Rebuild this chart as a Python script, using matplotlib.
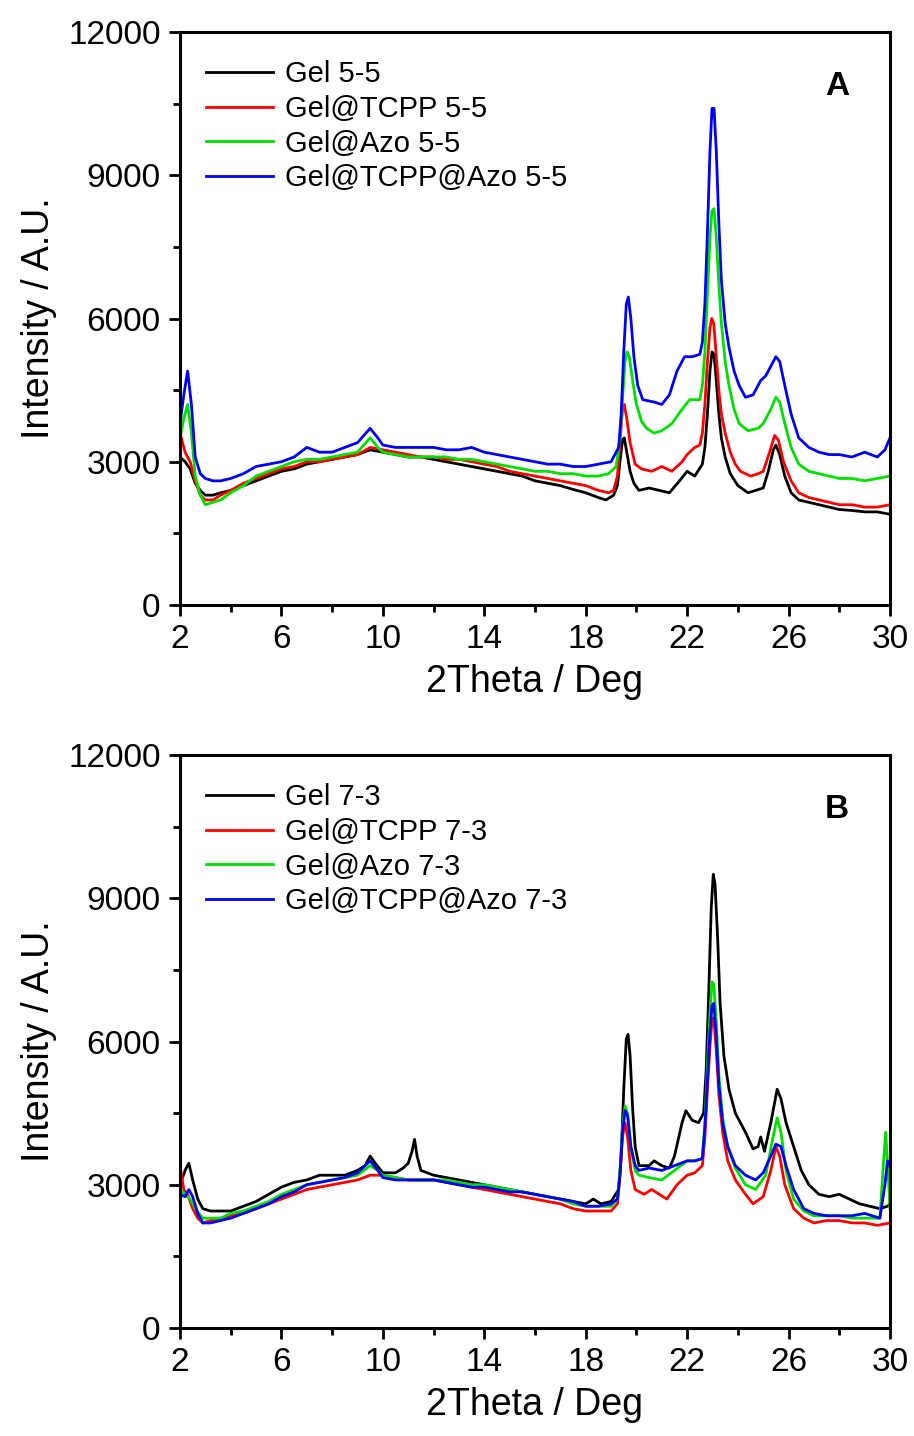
import numpy as np
import matplotlib.pyplot as plt
from matplotlib.ticker import MultipleLocator

plt.rcParams['font.family'] = ['Liberation Sans', 'DejaVu Sans']

# ---- panel A (5-5) ----
xa_gel = [2.0, 2.2, 2.4, 2.6, 2.8, 3.0, 3.3, 3.6, 4.0, 4.5, 5.0, 5.5, 6.0, 6.5, 7.0, 7.5, 8.0, 8.5, 9.0, 9.5,
          10.0, 10.5, 11.0, 11.5, 12.0, 12.5, 13.0, 13.5, 14.0, 14.5, 15.0, 15.5, 16.0, 16.5, 17.0, 17.5, 18.0,
          18.5, 18.8, 19.1, 19.25, 19.35, 19.45, 19.52, 19.62, 19.75, 19.9, 20.1, 20.5, 20.9, 21.3, 21.7, 22.0,
          22.3, 22.6, 22.7, 22.8, 22.9, 22.98, 23.06, 23.15, 23.25, 23.35, 23.5, 23.7, 24.0, 24.4, 24.7, 25.0,
          25.2, 25.4, 25.5, 25.65, 25.85, 26.1, 26.4, 26.8, 27.2, 27.6, 28.0, 28.5, 29.0, 29.5, 30.0]
ya_gel = [3100, 3000, 2850, 2550, 2400, 2300, 2300, 2350, 2400, 2500, 2600, 2700, 2800, 2850, 2950, 3000, 3050, 3100, 3150, 3250,
          3200, 3150, 3100, 3100, 3050, 3000, 2950, 2900, 2850, 2800, 2750, 2700, 2600, 2550, 2500, 2420, 2350,
          2250, 2200, 2300, 2500, 3000, 3450, 3500, 3200, 2800, 2550, 2400, 2450, 2400, 2350, 2600, 2800,
          2700, 2950, 3300, 4000, 4900, 5300, 5250, 4700, 4000, 3500, 3100, 2750, 2500, 2350, 2400, 2450,
          2800, 3250, 3350, 3150, 2700, 2350, 2200, 2150, 2100, 2050, 2000, 1980, 1950, 1950, 1900]

xa_tcpp = [2.0, 2.2, 2.4, 2.6, 2.8, 3.0, 3.3, 3.6, 4.0, 4.5, 5.0, 5.5, 6.0, 6.5, 7.0, 7.5, 8.0, 8.5, 9.0, 9.5,
           10.0, 10.5, 11.0, 11.5, 12.0, 12.5, 13.0, 13.5, 14.0, 14.5, 15.0, 15.5, 16.0, 16.5, 17.0, 17.5, 18.0,
           18.5, 18.9, 19.1, 19.25, 19.35, 19.45, 19.52, 19.62, 19.75, 19.95, 20.2, 20.6, 21.0, 21.4, 21.8, 22.0,
           22.3, 22.5, 22.6, 22.7, 22.8, 22.9, 22.97, 23.05, 23.15, 23.25, 23.35, 23.5, 23.7, 23.9, 24.1, 24.5,
           24.8, 25.0, 25.25, 25.45, 25.6, 25.8, 26.1, 26.4, 26.8, 27.2, 27.6, 28.0, 28.5, 29.0, 29.5, 30.0]
ya_tcpp = [3600, 3200, 3000, 2600, 2300, 2200, 2200, 2300, 2400, 2550, 2650, 2750, 2850, 2900, 3000, 3000, 3050, 3100, 3150, 3300,
           3250, 3200, 3150, 3100, 3100, 3050, 3050, 3000, 2950, 2900, 2800, 2750, 2700, 2650, 2600, 2550, 2500,
           2400, 2350, 2400, 2700, 3400, 4100, 4200, 3900, 3400, 2950, 2850, 2800, 2900, 2800, 3000, 3150,
           3300, 3350, 3600, 4200, 5100, 5800, 6000, 5900, 5200, 4500, 4000, 3600, 3200, 2950, 2800, 2700,
           2750, 2800, 3200, 3550, 3450, 3000, 2600, 2350, 2250, 2200, 2150, 2100, 2100, 2050, 2050, 2100]

xa_azo = [2.0, 2.15, 2.3, 2.45, 2.6, 2.8, 3.0, 3.3, 3.6, 4.0, 4.5, 5.0, 5.5, 6.0, 6.5, 7.0, 7.5, 8.0, 8.5, 9.0,
          9.5, 9.8, 10.0, 10.5, 11.0, 11.5, 12.0, 12.5, 13.0, 13.5, 14.0, 14.5, 15.0, 15.5, 16.0, 16.5, 17.0,
          17.5, 18.0, 18.5, 18.9, 19.2, 19.35, 19.45, 19.55, 19.63, 19.72, 19.85, 20.0, 20.2, 20.4, 20.7, 21.0,
          21.4, 21.8, 22.1, 22.5, 22.6, 22.7, 22.8, 22.9, 22.98, 23.06, 23.15, 23.25, 23.35, 23.5, 23.65, 23.85,
          24.05, 24.4, 24.8, 25.0, 25.3, 25.5, 25.65, 25.85, 26.1, 26.4, 26.8, 27.2, 27.6, 28.0, 28.5, 29.0,
          29.5, 30.0]
ya_azo = [3500, 3900, 4200, 3600, 2700, 2300, 2100, 2150, 2200, 2350, 2500, 2700, 2800, 2900, 3000, 3050, 3050, 3100, 3150, 3200,
          3500, 3300, 3200, 3150, 3100, 3100, 3100, 3100, 3050, 3050, 3000, 2950, 2900, 2850, 2800, 2800, 2750,
          2750, 2700, 2700, 2750, 2900, 3500, 4300, 5100, 5300, 5200, 4700, 4200, 3850, 3700, 3600, 3650,
          3800, 4100, 4300, 4300, 4600, 5300, 6500, 7700, 8250, 8300, 7700, 6700, 5900, 5100, 4600, 4100,
          3800, 3650, 3700, 3800, 4100, 4350, 4250, 3800, 3300, 2950, 2800, 2750, 2700, 2650, 2650, 2600,
          2650, 2700]

xa_both = [2.0, 2.15, 2.3, 2.45, 2.6, 2.8, 3.0, 3.3, 3.6, 4.0, 4.5, 5.0, 5.5, 6.0, 6.5, 7.0, 7.5, 8.0, 8.5, 9.0,
           9.5, 9.8, 10.0, 10.5, 11.0, 11.5, 12.0, 12.5, 13.0, 13.5, 14.0, 14.5, 15.0, 15.5, 16.0, 16.5, 17.0,
           17.5, 18.0, 18.5, 19.0, 19.3, 19.4, 19.5, 19.6, 19.68, 19.78, 19.9, 20.05, 20.25, 20.7, 21.0, 21.3,
           21.6, 21.9, 22.2, 22.5, 22.6, 22.7, 22.8, 22.9, 22.98, 23.06, 23.15, 23.25, 23.35, 23.5, 23.65, 23.85,
           24.05, 24.3, 24.6, 24.9, 25.1, 25.3, 25.5, 25.65, 25.85, 26.1, 26.4, 26.8, 27.2, 27.6, 28.0, 28.5,
           29.0, 29.5, 29.8, 30.0]
ya_both = [3800, 4400, 4900, 4200, 3100, 2750, 2650, 2600, 2600, 2650, 2750, 2900, 2950, 3000, 3100, 3300, 3200, 3200, 3300, 3400,
           3700, 3500, 3350, 3300, 3300, 3300, 3300, 3250, 3250, 3300, 3200, 3150, 3100, 3050, 3000, 2950, 2950,
           2900, 2900, 2950, 3000, 3300, 4000, 5300, 6300, 6450, 6000, 5200, 4600, 4300, 4250, 4200, 4400,
           4900, 5200, 5200, 5250, 5500, 6300, 7800, 9500, 10400, 10400, 9500, 8000, 6800, 5900, 5400, 4900,
           4600, 4350, 4400, 4700, 4800, 5000, 5200, 5100, 4600, 4000, 3500, 3300, 3200, 3150, 3150, 3100,
           3200, 3100, 3250, 3500]

# ---- panel B (7-3) ----
xb_gel = [2.0, 2.2, 2.35, 2.5, 2.7, 2.9, 3.2, 3.6, 4.0, 4.5, 5.0, 5.5, 6.0, 6.5, 7.0, 7.5, 8.0, 8.5, 9.0, 9.3,
          9.5, 9.7, 10.0, 10.5, 10.8, 11.0, 11.15, 11.25, 11.35, 11.5, 12.0, 12.5, 13.0, 13.5, 14.0, 14.5, 15.0,
          15.5, 16.0, 16.5, 17.0, 17.5, 18.0, 18.3, 18.6, 19.0, 19.3, 19.4, 19.5, 19.6, 19.67, 19.75, 19.85,
          19.95, 20.1, 20.5, 20.7, 21.0, 21.3, 21.5, 21.8, 21.95, 22.2, 22.45, 22.65, 22.75, 22.85, 22.95, 23.03,
          23.1, 23.2, 23.3, 23.45, 23.65, 23.9, 24.3, 24.6, 24.8, 24.9, 25.05, 25.3, 25.55, 25.7, 25.9, 26.2,
          26.5, 26.8, 27.2, 27.6, 28.0, 28.4, 28.8, 29.2, 29.6, 29.9, 30.0]
yb_gel = [3000, 3300, 3450, 3100, 2700, 2500, 2450, 2450, 2450, 2550, 2650, 2800, 2950, 3050, 3100, 3200, 3200, 3200, 3300, 3400,
          3600, 3450, 3250, 3250, 3350, 3450, 3700, 3950, 3600, 3300, 3200, 3150, 3100, 3050, 3000, 2950, 2900,
          2850, 2800, 2750, 2700, 2650, 2600, 2700, 2600, 2650, 2900, 3600, 5000, 6050, 6150, 5700, 4600,
          3800, 3400, 3400, 3500, 3400, 3350, 3600, 4300, 4550, 4350, 4300, 4500, 5400, 7000, 8800, 9500,
          9300, 8200, 6800, 5700, 5000, 4500, 4100, 3750, 3800, 4000, 3700, 4300, 5000, 4800, 4300, 3800,
          3300, 3000, 2800, 2750, 2800, 2700, 2600, 2550, 2500, 2550, 2600]

xb_tcpp = [2.0, 2.15, 2.3, 2.5, 2.7, 2.9, 3.2, 3.6, 4.0, 4.5, 5.0, 5.5, 6.0, 6.5, 7.0, 7.5, 8.0, 8.5, 9.0, 9.5,
           10.0, 10.5, 11.0, 11.5, 12.0, 12.5, 13.0, 13.5, 14.0, 14.5, 15.0, 15.5, 16.0, 16.5, 17.0, 17.5, 18.0,
           18.5, 19.0, 19.25, 19.35, 19.45, 19.55, 19.65, 19.78, 19.95, 20.3, 20.6, 20.9, 21.2, 21.6, 22.0, 22.3,
           22.6, 22.7, 22.8, 22.9, 22.98, 23.05, 23.15, 23.25, 23.4, 23.6, 23.9, 24.3, 24.6, 25.0, 25.3, 25.5,
           25.65, 25.85, 26.2, 26.6, 27.0, 27.5, 28.0, 28.5, 29.0, 29.5, 30.0]
yb_tcpp = [3400, 2900, 2800, 2500, 2300, 2200, 2250, 2300, 2350, 2400, 2500, 2600, 2700, 2800, 2900, 2950, 3000, 3050, 3100, 3200,
           3200, 3150, 3100, 3100, 3100, 3050, 3000, 2950, 2900, 2850, 2800, 2750, 2700, 2650, 2600, 2500, 2450,
           2450, 2450, 2600, 3200, 4000, 4300, 4000, 3300, 2900, 2800, 2900, 2800, 2700, 3000, 3200, 3250,
           3400, 4000, 5000, 5900, 6450, 6500, 5800, 4900, 4100, 3500, 3100, 2800, 2600, 2750, 3300, 3800,
           3600, 3000, 2500, 2300, 2200, 2250, 2250, 2200, 2200, 2150, 2200]

xb_azo = [2.0, 2.2, 2.4, 2.6, 2.9, 3.2, 3.6, 4.0, 4.5, 5.0, 5.5, 6.0, 6.5, 7.0, 7.5, 8.0, 8.5, 9.0, 9.5, 9.8,
          10.0, 10.5, 11.0, 11.5, 12.0, 12.5, 13.0, 13.5, 14.0, 14.5, 15.0, 15.5, 16.0, 16.5, 17.0, 17.5, 18.0,
          18.5, 19.0, 19.25, 19.35, 19.45, 19.55, 19.65, 19.78, 19.95, 20.1, 20.5, 21.0, 21.5, 22.0, 22.3, 22.6,
          22.7, 22.8, 22.9, 22.98, 23.05, 23.15, 23.25, 23.4, 23.6, 23.9, 24.3, 24.7, 25.1, 25.35, 25.55, 25.7,
          25.9, 26.2, 26.6, 27.0, 27.5, 28.0, 28.5, 29.0, 29.6, 29.75, 29.83, 29.92, 30.0]
yb_azo = [2900, 2800, 2700, 2500, 2300, 2300, 2300, 2400, 2450, 2550, 2650, 2800, 2900, 3000, 3050, 3100, 3150, 3200, 3400, 3300,
          3200, 3150, 3100, 3100, 3100, 3100, 3050, 3000, 3000, 2950, 2900, 2850, 2800, 2750, 2700, 2600, 2550,
          2550, 2550, 2700, 3300, 4200, 4650, 4500, 3800, 3300, 3200, 3150, 3100, 3300, 3500, 3500, 3550,
          4300, 5500, 6600, 7250, 7200, 6400, 5300, 4400, 3800, 3350, 3000, 2900, 3200, 3900, 4400, 4100,
          3300, 2700, 2450, 2350, 2350, 2350, 2300, 2300, 2300, 3500, 4100, 3300, 2500]

xb_both = [2.0, 2.2, 2.35, 2.5, 2.7, 2.9, 3.2, 3.6, 4.0, 4.5, 5.0, 5.5, 6.0, 6.5, 7.0, 7.5, 8.0, 8.5, 9.0, 9.5,
           9.8, 10.0, 10.5, 11.0, 11.5, 12.0, 12.5, 13.0, 13.5, 14.0, 14.5, 15.0, 15.5, 16.0, 16.5, 17.0, 17.5,
           18.0, 18.5, 19.0, 19.25, 19.35, 19.45, 19.55, 19.65, 19.78, 19.95, 20.1, 20.5, 21.0, 21.5, 22.0, 22.3,
           22.6, 22.7, 22.8, 22.9, 22.98, 23.05, 23.15, 23.25, 23.4, 23.6, 23.9, 24.3, 24.7, 25.0, 25.3, 25.5,
           25.7, 25.9, 26.2, 26.6, 27.0, 27.5, 28.0, 28.5, 29.0, 29.6, 29.8, 29.9, 30.0]
yb_both = [2800, 2750, 2900, 2750, 2400, 2200, 2200, 2250, 2300, 2400, 2500, 2600, 2750, 2850, 3000, 3050, 3100, 3150, 3250, 3500,
           3300, 3150, 3100, 3100, 3100, 3100, 3050, 3000, 2950, 2950, 2900, 2850, 2850, 2800, 2750, 2700, 2650,
           2550, 2550, 2600, 2700, 3200, 4100, 4550, 4450, 3800, 3400, 3300, 3350, 3300, 3400, 3500, 3500,
           3550, 4200, 5200, 6200, 6750, 6800, 6100, 5100, 4300, 3800, 3400, 3200, 3100, 3250, 3600, 3850,
           3800, 3400, 2900, 2500, 2400, 2350, 2350, 2350, 2400, 2300, 3000, 3500, 3400]

colors = ['black', '#ff0000', '#00e000', '#0000ff']
labels_a = ['Gel 5-5', 'Gel@TCPP 5-5', 'Gel@Azo 5-5', 'Gel@TCPP@Azo 5-5']
labels_b = ['Gel 7-3', 'Gel@TCPP 7-3', 'Gel@Azo 7-3', 'Gel@TCPP@Azo 7-3']

series_a = [(xa_gel, ya_gel), (xa_tcpp, ya_tcpp), (xa_azo, ya_azo), (xa_both, ya_both)]
series_b = [(xb_gel, yb_gel), (xb_tcpp, yb_tcpp), (xb_azo, yb_azo), (xb_both, yb_both)]

fig = plt.figure(figsize=(9.14, 14.36), dpi=100)
ax_a = fig.add_axes([180 / 914, 1 - 605 / 1436, 710 / 914, 573 / 1436])
ax_b = fig.add_axes([180 / 914, 1 - 1328 / 1436, 710 / 914, 573 / 1436])


def draw(ax, series, labels, tag):
    for (x, y), c, lab in zip(series, colors, labels):
        ax.plot(x, y, color=c, lw=2.0, label=lab)
    ax.set_xlim(2, 30)
    ax.set_ylim(0, 12000)
    ax.set_xticks(np.arange(2, 31, 4))
    ax.set_yticks(np.arange(0, 12001, 3000))
    ax.xaxis.set_minor_locator(MultipleLocator(2))
    ax.yaxis.set_minor_locator(MultipleLocator(1500))
    ax.tick_params(which='major', direction='out', length=8, width=2, labelsize=24, pad=6)
    ax.tick_params(which='minor', direction='out', length=5, width=2)
    for s in ax.spines.values():
        s.set_linewidth(2.2)
    ax.set_xlabel('2Theta / Deg', fontsize=27, labelpad=6)
    ax.set_ylabel('Intensity / A.U.', fontsize=27, labelpad=8)
    ax.legend(loc='upper left', bbox_to_anchor=(0.02, 0.971), frameon=False, fontsize=21,
              handlelength=2.3, handletextpad=0.4, labelspacing=0.23, borderaxespad=0)
    ax.text(0.925, 0.905, tag, transform=ax.transAxes, fontsize=24, fontweight='bold',
            ha='center', va='center')


draw(ax_a, series_a, labels_a, 'A')
draw(ax_b, series_b, labels_b, 'B')

fig.savefig('out.png', dpi=100)
